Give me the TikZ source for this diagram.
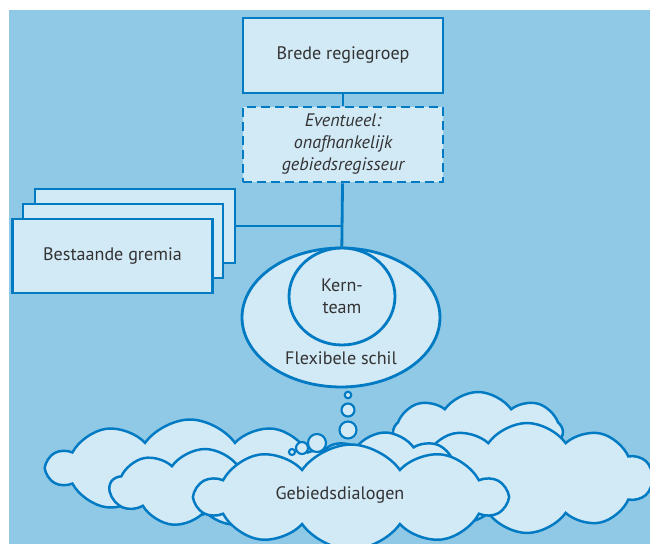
\documentclass[tikz,border=0pt]{standalone}
\usepackage{fontspec}
\setmainfont{PT Sans}
\usetikzlibrary{positioning,shapes.geometric,shapes.symbols}
\definecolor{achter}{RGB}{144,201,230}
\definecolor{vlak}{RGB}{210,233,246}
\definecolor{lijn}{RGB}{0,122,195}
\definecolor{tekst}{RGB}{51,51,51}
\begin{document}
\begin{tikzpicture}[x=0.02cm, y=-0.02cm, node distance={1.78cm}, line width=1.6pt,
        main/.style = {draw=lijn, fill=vlak, text=tekst, minimum width=4cm, minimum height=1.5cm, font=\fontsize{10.3}{12.5}\selectfont},
        letter/.style = {text=tekst, align=center, font=\fontsize{10.3}{12.5}\selectfont},
        wolk/.style = {cloud, cloud ignores aspect, cloud puff arc=110, draw=lijn, fill=vlak, inner sep=0pt, line width=1.4pt},
        bel/.style = {circle, draw=lijn, fill=vlak, inner sep=0pt, line width=1.2pt}]
        \useasboundingbox (0,0) rectangle (650,544);
        \fill[achter] (9,10) rectangle (650,544);
        \node[main] (1) at (343,55.5) {Brede regiegroep};
        \node[main, dash pattern=on 0.18cm off 0.1cm, letter, font=\fontsize{10.3}{12.5}\selectfont\itshape] (2) [below of=1] {Eventueel:\\onafhankelijk\\gebiedsregisseur};
        \node[main, minimum height=1.48cm] (3c) at (135,226) {};
        \node[main, minimum height=1.48cm] (3b) at (123,241) {};
        \node[main, minimum height=1.48cm] (3a) at (112.5,256) {Bestaande gremia};
        \node[main, ellipse, minimum width=3.96cm, minimum height=2.78cm] (4) at (341,317.5) {};
        \node[main, ellipse, minimum width=2.12cm, minimum height=1.94cm, letter] (5) at (342,296.5) {Kern-\\team};
        \node[letter] (6) at (341,358) {Flexibele schil};
        \coordinate (j) at (2.south |- 3c.east);
        \draw[-, lijn] (1) -- (2);
        \draw[-, lijn] (2) -- (4);
        \draw[-, lijn] (3c.east) -- (j);
        % wolken
        \begin{scope}
        \clip (9,10) rectangle (650,544);
        \node[wolk, cloud puffs=8, minimum width=3.4cm, minimum height=1.6cm] (w1) at (478,432) {};
        \node[wolk, cloud puffs=10, minimum width=5cm, minimum height=2.2cm] (w2) at (527,478) {};
        \node[wolk, cloud puffs=10, minimum width=5.7cm, minimum height=1.94cm] (w3) at (190,468) {};
        \node[wolk, cloud puffs=8, minimum width=3cm, minimum height=1.7cm] (w4) at (385,475) {};
        \node[bel, minimum size=0.36cm] (b1) at (317,443) {};
        \node[bel, minimum size=0.24cm] (b2) at (302,448) {};
        \node[bel, minimum size=0.12cm] (b3) at (292,452) {};
        \node[wolk, cloud puffs=9, minimum width=3.8cm, minimum height=1.56cm] (w5) at (205,488) {};
        \node[wolk, cloud puffs=10, minimum width=6.2cm, minimum height=2.1cm] (w6) at (351,497) {};
        \end{scope}
        \node[bel, minimum size=0.13cm] (t1) at (348,395) {};
        \node[bel, minimum size=0.26cm] (t2) at (348,410) {};
        \node[bel, minimum size=0.34cm] (t3) at (348,430) {};
        \node[letter] (7) at (340,495) {Gebiedsdialogen};
    \end{tikzpicture}
\end{document}
